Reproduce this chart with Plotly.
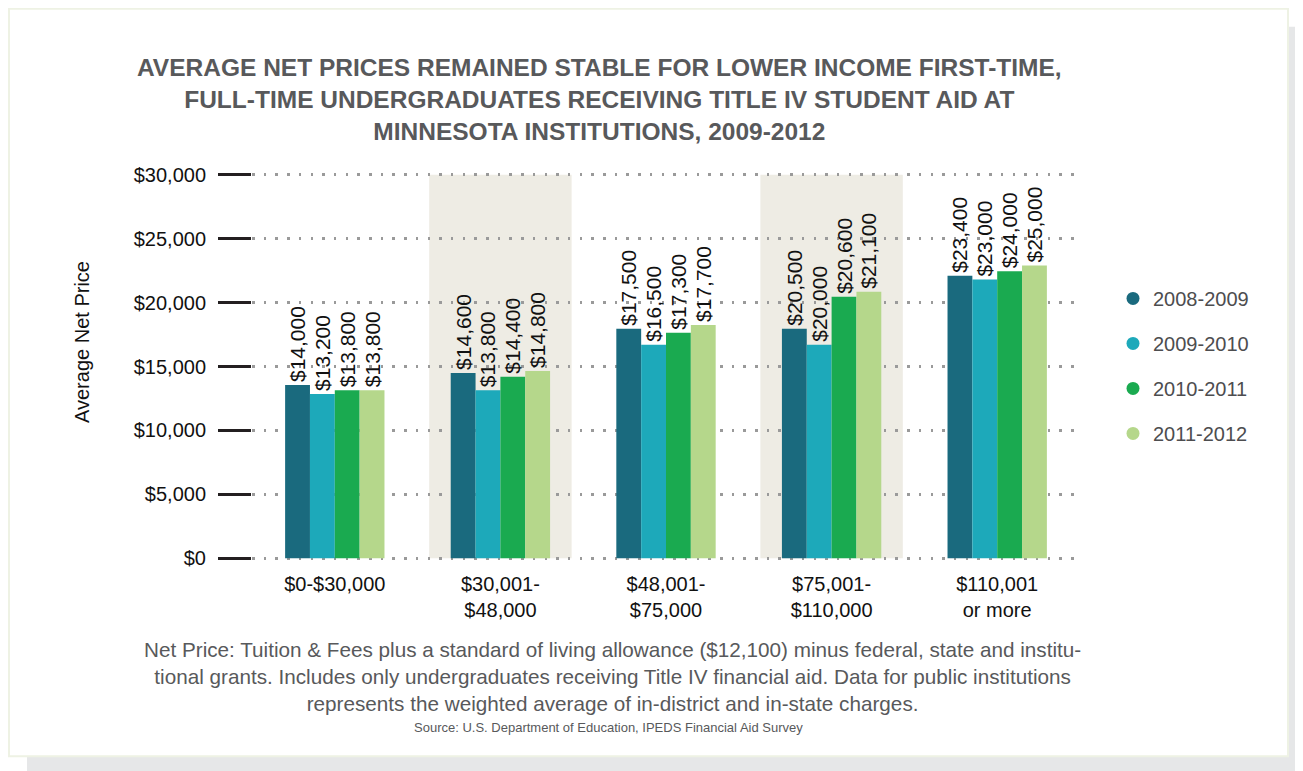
import plotly.graph_objects as go

# ---------------- data ----------------
categories = ["$0-$30,000", "$30,001-<br>$48,000", "$48,001-<br>$75,000",
              "$75,001-<br>$110,000", "$110,001<br>or more"]
series_names = ["2008-2009", "2009-2010", "2010-2011", "2011-2012"]
# bar heights as drawn
values_0809 = [13550, 14500, 17950, 17950, 22100]
values_0910 = [12850, 13150, 16700, 16700, 21800]
values_1011 = [13150, 14200, 17650, 20450, 22450]
values_1112 = [13150, 14650, 18250, 20850, 22900]
# printed labels
labels_0809 = ["$14,000", "$14,600", "$17,500", "$20,500", "$23,400"]
labels_0910 = ["$13,200", "$13,800", "$16,500", "$20,000", "$23,000"]
labels_1011 = ["$13,800", "$14,400", "$17,300", "$20,600", "$24,000"]
labels_1112 = ["$13,800", "$14,800", "$17,700", "$21,100", "$25,000"]
y_tickvals = [0, 5000, 10000, 15000, 20000, 25000, 30000]
y_ticktext = ["$0", "$5,000", "$10,000", "$15,000", "$20,000", "$25,000", "$30,000"]
shaded_groups = [1, 3]

colors = ["#1A6A7E", "#1DA9BA", "#1AAA50", "#B5D78B"]
all_values = [values_0809, values_0910, values_1011, values_1112]
all_labels = [labels_0809, labels_0910, labels_1011, labels_1112]

FONT = "Liberation Sans"

OFF = 8  # page body margin
W, H = 1303 - OFF, 771 - OFF
YPAD = 300  # range padding so edge gridlines show
PXU = 383 / 30000
L, R = 252 - OFF, 1080 - OFF
T, B = 175 - OFF - YPAD * PXU, 558 - OFF + YPAD * PXU


def px(x):
    return (x - OFF - L) / (R - L)


def py(y):
    return (B - (y - OFF)) / (B - T)


fig = go.Figure()
xs = list(range(len(categories)))
for name, vals, labs, col in zip(series_names, all_values, all_labels, colors):
    fig.add_trace(go.Bar(
        x=xs, y=vals, name=name, marker=dict(color=col, line=dict(width=0)),
        text=labs, textposition="outside", textangle=-90,
        textfont=dict(family=FONT, size=21, color="#111111"),
        constraintext="none", cliponaxis=False, showlegend=False,
    ))
# legend entries with round markers
for i, (name, col) in enumerate(zip(series_names, colors)):
    fig.add_trace(go.Scatter(
        x=[None], y=[None], mode="markers", name=name,
        marker=dict(color=col, size=13, symbol="circle"),
        legendgroup=f"g{i}", showlegend=True,
    ))

shapes = []
# card shadow and card
shapes.append(dict(type="rect", xref="paper", yref="paper", layer="below",
                   x0=px(27), x1=px(1320), y0=py(27), y1=py(790),
                   fillcolor="#E6E7E8", line=dict(width=0)))
shapes.append(dict(type="rect", xref="paper", yref="paper", layer="below",
                   x0=px(9), x1=px(1288), y0=py(9), y1=py(756),
                   fillcolor="#FFFFFF", line=dict(color="#EEF2E4", width=2)))
# shaded bands behind alternate groups
for g in shaded_groups:
    shapes.append(dict(type="rect", xref="x", yref="y", layer="below",
                       x0=g - 0.43, x1=g + 0.43, y0=0, y1=30000,
                       fillcolor="#EEECE4", line=dict(width=0)))

annotations = [
    dict(text="AVERAGE NET PRICES REMAINED STABLE FOR LOWER INCOME FIRST-TIME,<br>"
              "FULL-TIME UNDERGRADUATES RECEIVING TITLE IV STUDENT AID AT<br>"
              "MINNESOTA INSTITUTIONS, 2009-2012",
         xref="paper", yref="paper", x=px(599), y=py(100), xanchor="center", yanchor="middle",
         showarrow=False, align="center",
         font=dict(family=FONT, size=24.5, color="#58595B", weight="bold")),
    dict(text="Average Net Price", xref="paper", yref="paper", x=px(82), y=py(342),
         xanchor="center", yanchor="middle", textangle=-90, showarrow=False,
         font=dict(family=FONT, size=20, color="#111111")),
    dict(text="Net Price: Tuition &amp; Fees plus a standard of living allowance ($12,100) minus federal, state and institu-<br>"
              "tional grants. Includes only undergraduates receiving Title IV financial aid. Data for public institutions<br>"
              "represents the weighted average of in-district and in-state charges.",
         xref="paper", yref="paper", x=px(612), y=py(676), xanchor="center", yanchor="middle",
         showarrow=False, align="center",
         font=dict(family=FONT, size=20.7, color="#58595B")),
    dict(text="Source: U.S. Department of Education, IPEDS Financial Aid Survey",
         xref="paper", yref="paper", x=px(608), y=py(727), xanchor="center", yanchor="middle",
         showarrow=False, font=dict(family=FONT, size=13, color="#58595B")),
]

fig.update_layout(
    width=W, height=H,
    margin=dict(l=L, r=W - R, t=T, b=H - B, pad=0),
    paper_bgcolor="#FFFFFF", plot_bgcolor="rgba(0,0,0,0)",
    barmode="group", bargap=0.4, bargroupgap=0,
    shapes=shapes, annotations=annotations,
    showlegend=True,
    legend=dict(x=px(1113), y=py(279), xanchor="left", yanchor="top",
                font=dict(family=FONT, size=20, color="#4D4D4F"),
                tracegroupgap=16, traceorder="grouped", itemwidth=30,
                bgcolor="rgba(0,0,0,0)"),
    font=dict(family=FONT),
)
fig.update_xaxes(
    tickmode="array", tickvals=xs, ticktext=categories, range=[-0.5, len(categories) - 0.5],
    showgrid=False, zeroline=False, showline=False, ticks="",
    ticklabelstandoff=8,
    tickfont=dict(family=FONT, size=20, color="#111111"),
)
fig.update_yaxes(
    range=[-YPAD, 30000 + YPAD], tickmode="array", tickvals=y_tickvals, ticktext=y_ticktext,
    showgrid=True, gridcolor="#9A9A9A", gridwidth=2.5, griddash="2.5px,9.2px",
    zeroline=False, showline=False,
    ticks="outside", ticklen=33, tickwidth=2.5, tickcolor="#231F20",
    ticklabelstandoff=8,
    tickfont=dict(family=FONT, size=20, color="#111111"),
)

fig.write_html("out.html")
